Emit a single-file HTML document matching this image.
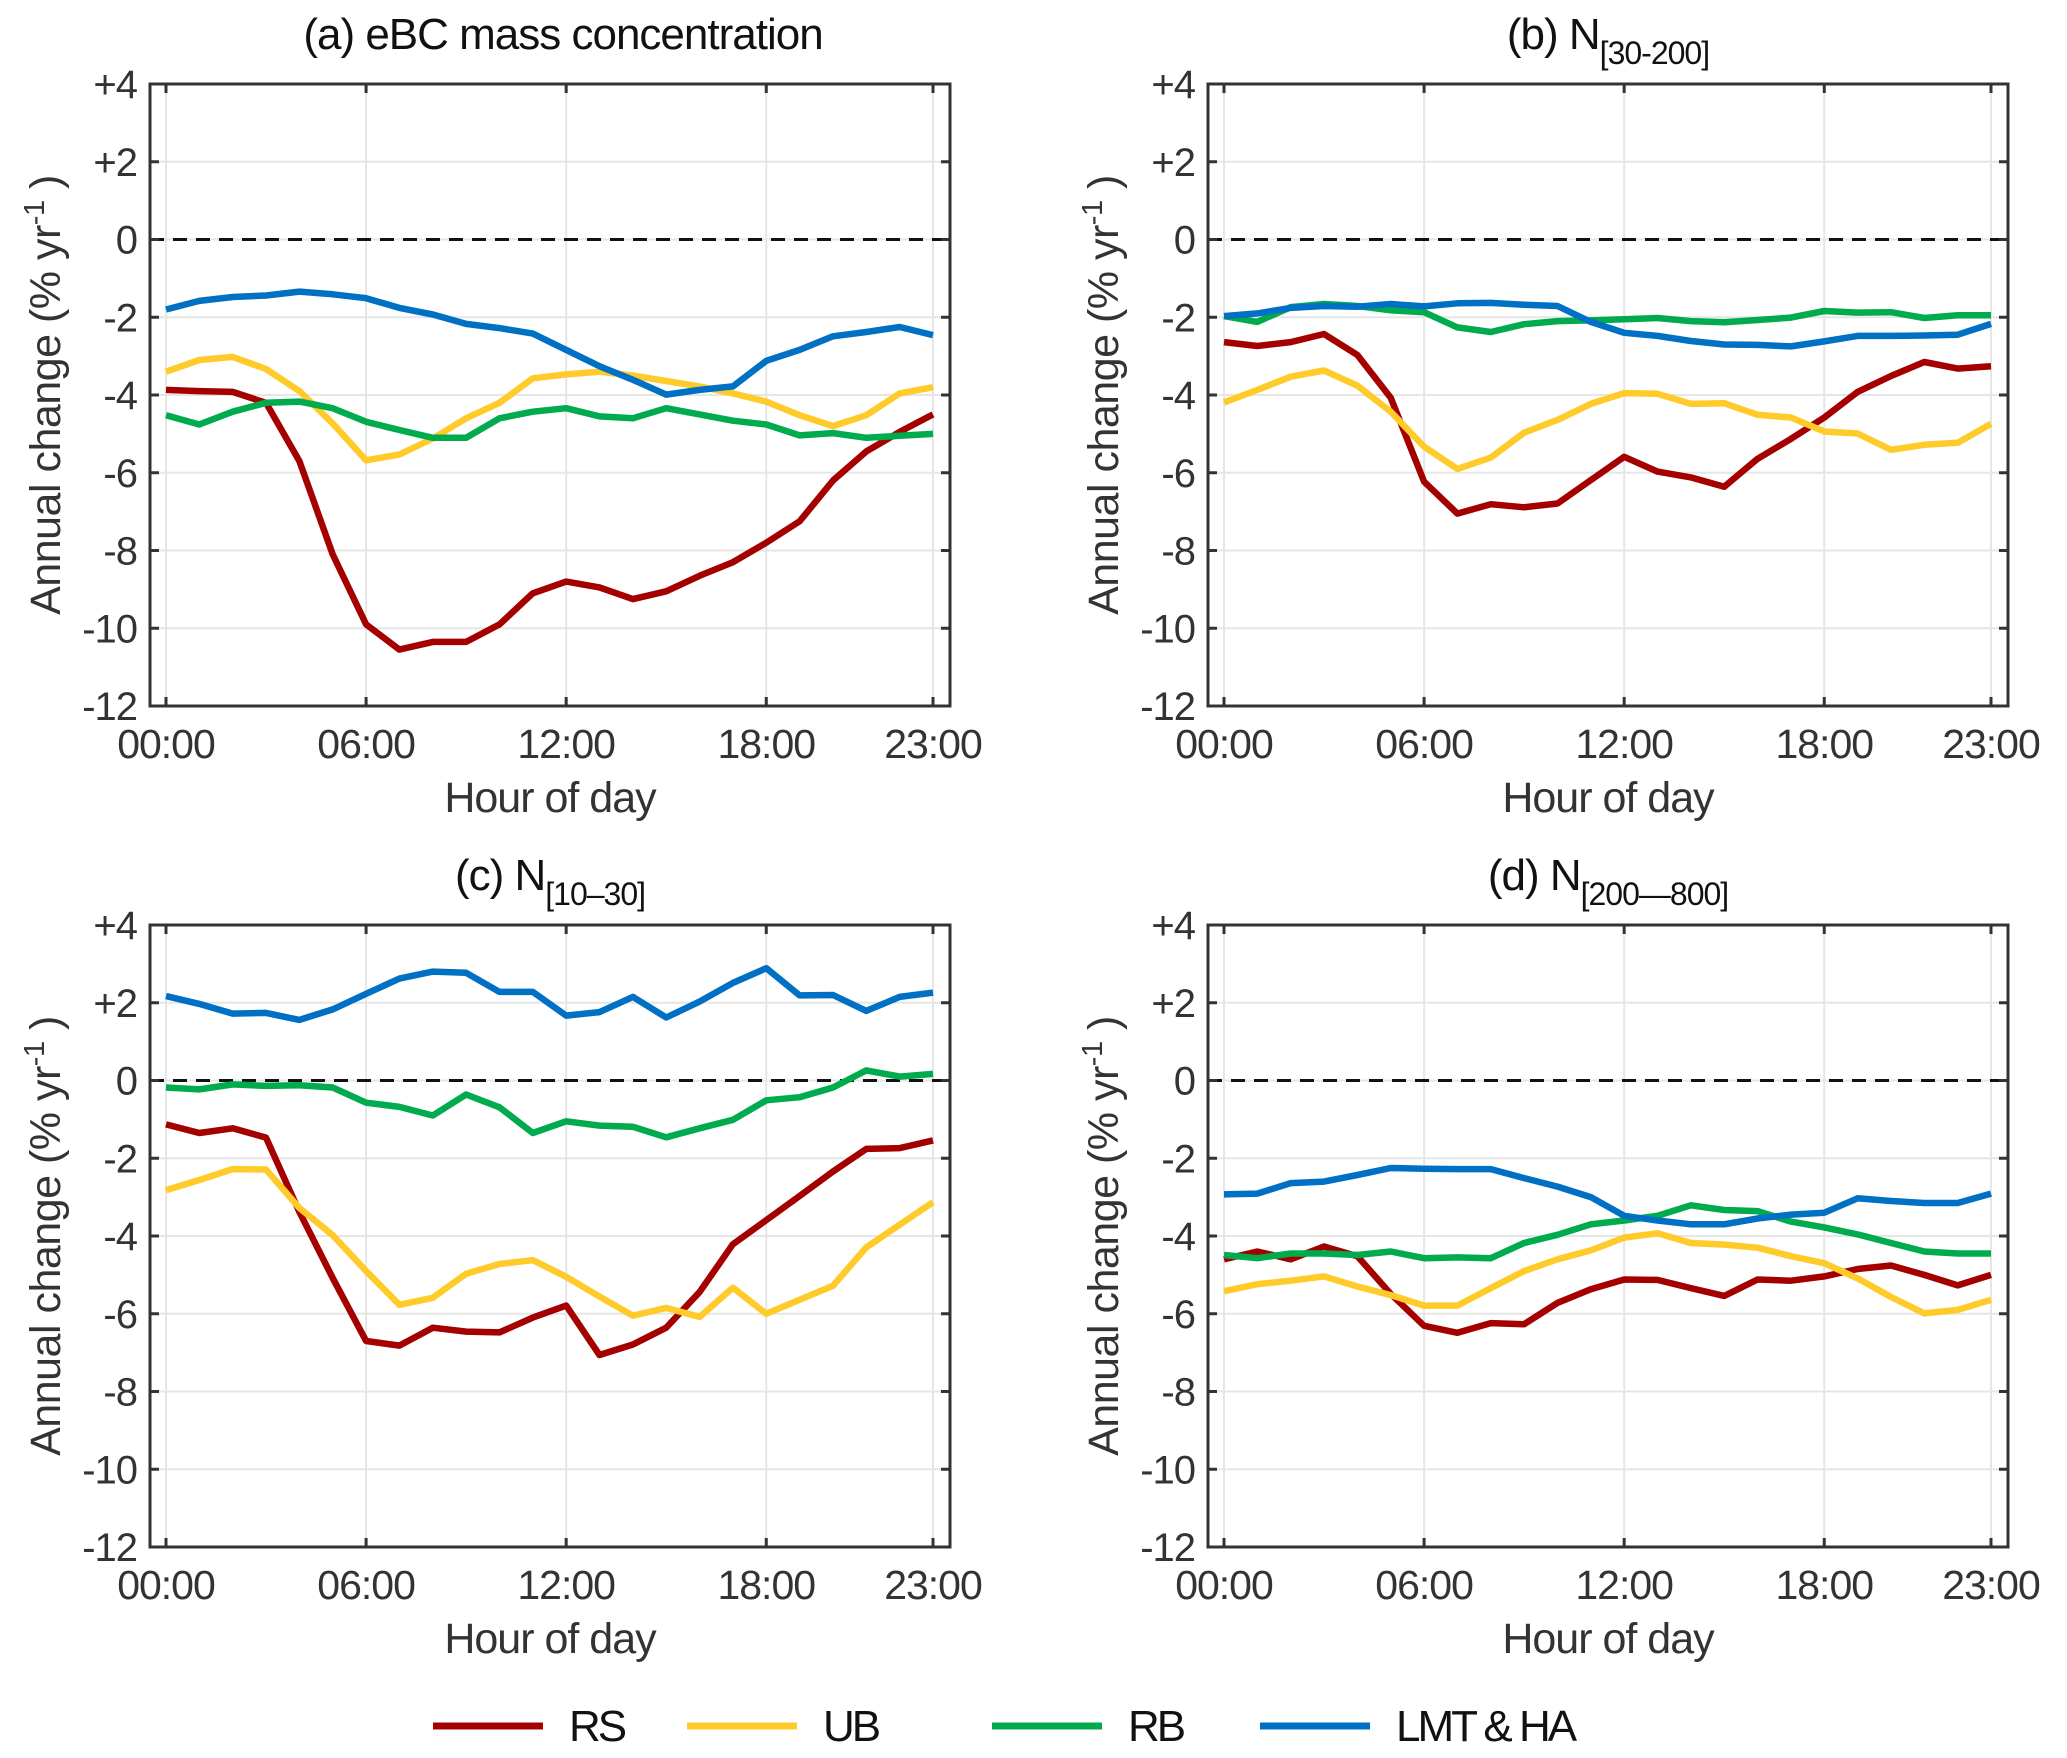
<!DOCTYPE html>
<html><head><meta charset="utf-8"><style>
html,body{margin:0;padding:0;background:#fff;}
svg{display:block;font-family:"Liberation Sans",Arial,sans-serif;}
</style></head><body>
<svg id="fig" width="2067" height="1758" viewBox="0 0 2067 1758" xmlns="http://www.w3.org/2000/svg"></svg>
<script>
const hours = [0,1,2,3,4,5,6,7,8,9,10,11,12,13,14,15,16,17,18,19,20,21,22,23];
const yTicks = [4,2,0,-2,-4,-6,-8,-10,-12];
const yTickLabels = ["+4","+2","0","-2","-4","-6","-8","-10","-12"];
const xTicks = [0,6,12,18,23];
const xTickLabels = ["00:00","06:00","12:00","18:00","23:00"];
const seriesNames = ["RS","UB","RB","LMT & HA"];

const aRS = [-3.87,-3.9,-3.92,-4.2,-5.7,-8.1,-9.9,-10.55,-10.35,-10.35,-9.9,-9.1,-8.8,-8.95,-9.25,-9.05,-8.65,-8.3,-7.8,-7.25,-6.2,-5.45,-4.95,-4.5];
const aUB = [-3.4,-3.1,-3.02,-3.33,-3.9,-4.73,-5.68,-5.53,-5.12,-4.6,-4.2,-3.57,-3.47,-3.4,-3.5,-3.64,-3.78,-3.96,-4.17,-4.52,-4.8,-4.52,-3.96,-3.8];
const aRB = [-4.52,-4.76,-4.43,-4.2,-4.17,-4.34,-4.69,-4.9,-5.1,-5.1,-4.6,-4.43,-4.34,-4.55,-4.6,-4.34,-4.5,-4.66,-4.76,-5.04,-4.98,-5.1,-5.05,-5.0];
const aLMT = [-1.8,-1.58,-1.48,-1.44,-1.34,-1.41,-1.51,-1.76,-1.93,-2.17,-2.28,-2.42,-2.84,-3.26,-3.61,-3.99,-3.87,-3.78,-3.12,-2.84,-2.49,-2.38,-2.25,-2.46];

const bRS = [-2.64,-2.74,-2.64,-2.43,-2.97,-4.07,-6.23,-7.05,-6.81,-6.89,-6.79,-6.19,-5.59,-5.97,-6.12,-6.36,-5.64,-5.13,-4.58,-3.92,-3.51,-3.15,-3.32,-3.26];
const bUB = [-4.19,-3.87,-3.53,-3.37,-3.76,-4.43,-5.33,-5.9,-5.61,-4.97,-4.64,-4.23,-3.95,-3.97,-4.23,-4.21,-4.51,-4.58,-4.94,-4.99,-5.41,-5.28,-5.23,-4.74];
const bRB = [-1.97,-2.12,-1.74,-1.66,-1.71,-1.82,-1.87,-2.26,-2.38,-2.18,-2.10,-2.08,-2.05,-2.02,-2.10,-2.13,-2.07,-2.01,-1.84,-1.88,-1.87,-2.02,-1.95,-1.95];
const bLMT = [-1.97,-1.9,-1.76,-1.71,-1.73,-1.66,-1.72,-1.64,-1.63,-1.68,-1.71,-2.12,-2.4,-2.48,-2.61,-2.7,-2.71,-2.75,-2.62,-2.48,-2.48,-2.47,-2.45,-2.17];

const cRS = [-1.13,-1.35,-1.23,-1.47,-3.38,-5.08,-6.70,-6.82,-6.36,-6.46,-6.48,-6.1,-5.79,-7.06,-6.79,-6.36,-5.44,-4.21,-3.59,-2.97,-2.34,-1.76,-1.74,-1.54];
const cUB = [-2.82,-2.56,-2.28,-2.29,-3.28,-3.98,-4.9,-5.77,-5.59,-4.97,-4.72,-4.62,-5.05,-5.56,-6.05,-5.85,-6.08,-5.33,-6.0,-5.64,-5.28,-4.29,-3.71,-3.13];
const cRB = [-0.18,-0.23,-0.1,-0.14,-0.12,-0.18,-0.57,-0.68,-0.9,-0.36,-0.69,-1.35,-1.05,-1.16,-1.19,-1.46,-1.23,-1.01,-0.51,-0.43,-0.18,0.26,0.1,0.17];
const cLMT = [2.17,1.97,1.72,1.74,1.56,1.83,2.23,2.62,2.8,2.77,2.28,2.28,1.67,1.76,2.15,1.62,2.03,2.51,2.89,2.19,2.2,1.79,2.15,2.26];

const dRS = [-4.6,-4.4,-4.6,-4.27,-4.52,-5.49,-6.31,-6.49,-6.24,-6.27,-5.72,-5.37,-5.12,-5.13,-5.34,-5.54,-5.12,-5.15,-5.04,-4.85,-4.76,-5.0,-5.27,-5.0];
const dUB = [-5.42,-5.24,-5.15,-5.04,-5.3,-5.52,-5.79,-5.79,-5.34,-4.9,-4.6,-4.37,-4.04,-3.93,-4.18,-4.22,-4.3,-4.52,-4.7,-5.09,-5.57,-5.99,-5.9,-5.64];
const dRB = [-4.49,-4.57,-4.45,-4.45,-4.49,-4.4,-4.57,-4.55,-4.57,-4.18,-3.97,-3.7,-3.6,-3.48,-3.21,-3.33,-3.36,-3.63,-3.78,-3.96,-4.18,-4.4,-4.45,-4.45];
const dLMT = [-2.93,-2.91,-2.64,-2.6,-2.43,-2.25,-2.27,-2.28,-2.28,-2.51,-2.73,-3.0,-3.48,-3.6,-3.7,-3.7,-3.55,-3.45,-3.4,-3.03,-3.1,-3.15,-3.15,-2.91];

const colors = ["#a50000","#ffcb2a","#00ab4e","#0070c4"];
const NS = "http://www.w3.org/2000/svg";
const svg = document.getElementById("fig");
function mk(tag, attrs, parent){const e=document.createElementNS(NS,tag);for(const k in attrs)e.setAttribute(k,attrs[k]);(parent||svg).appendChild(e);return e;}

const panels = [
 {id:"a", L:150, T:84, title:"(a) eBC mass concentration", sub:"", data:[aRS,aUB,aRB,aLMT]},
 {id:"b", L:1208, T:84, title:"(b) N", sub:"[30-200]", data:[bRS,bUB,bRB,bLMT]},
 {id:"c", L:150, T:925, title:"(c) N", sub:"[10\u201330]", data:[cRS,cUB,cRB,cLMT]},
 {id:"d", L:1208, T:925, title:"(d) N", sub:"[200\u2014800]", data:[dRS,dUB,dRB,dLMT]}
];
const W=800,H=622;
panels.forEach(p=>{
  const g=mk("g",{});
  
  
  const xS=h=>p.L+16+h*(W-33)/23;
  const yS=v=>p.T+(4-v)*H/16;
  yTicks.forEach(v=>{const l=mk("line",{x1:p.L,x2:p.L+W,y1:yS(v),y2:yS(v),stroke:"#e6e6e6","stroke-width":2},g);
    });
  xTicks.forEach(h=>{const l=mk("line",{x1:xS(h),x2:xS(h),y1:p.T,y2:p.T+H,stroke:"#e6e6e6","stroke-width":2},g);
    });
  const z=mk("line",{x1:p.L,x2:p.L+W,y1:yS(0),y2:yS(0),stroke:"#111","stroke-width":3,"stroke-dasharray":"14 9"},g);
  
  p.data.forEach((vals,si)=>{
    const pts=hours.map((h,i)=>xS(h).toFixed(1)+","+yS(vals[i]).toFixed(1)).join(" ");
    const pl=mk("polyline",{points:pts,fill:"none",stroke:colors[si],"stroke-width":6.5,"stroke-linejoin":"round"},g);
    
    
  });
  const fr=mk("rect",{x:p.L,y:p.T,width:W,height:H,fill:"none",stroke:"#333","stroke-width":3},g);
  
  yTicks.forEach((v,i)=>{
    mk("line",{x1:p.L,x2:p.L+9,y1:yS(v),y2:yS(v),stroke:"#333","stroke-width":3},g);
    mk("line",{x1:p.L+W-9,x2:p.L+W,y1:yS(v),y2:yS(v),stroke:"#333","stroke-width":3},g);
    const t=mk("text",{x:p.L-13,y:yS(v)+14,"text-anchor":"end","font-size":40,fill:"#333","letter-spacing":"-1"},g);
    t.textContent=yTickLabels[i];
    
  });
  xTicks.forEach((h,i)=>{
    mk("line",{x1:xS(h),x2:xS(h),y1:p.T+H-9,y2:p.T+H,stroke:"#333","stroke-width":3},g);
    mk("line",{x1:xS(h),x2:xS(h),y1:p.T,y2:p.T+9,stroke:"#333","stroke-width":3},g);
    const t=mk("text",{x:xS(h),y:p.T+H+52,"text-anchor":"middle","font-size":41,fill:"#333","letter-spacing":"-1"},g);
    t.textContent=xTickLabels[i];
    
  });
  const xt=mk("text",{x:p.L+W/2,y:p.T+H+106,"text-anchor":"middle","font-size":43,fill:"#333","letter-spacing":"-1"},g);
  xt.textContent="Hour of day";
  
  const cy=p.T+H/2, cx=p.L-90;
  const yt=mk("text",{x:cx,y:cy,"text-anchor":"middle","font-size":43,fill:"#333","letter-spacing":"-0.5",transform:`rotate(-90 ${cx} ${cy})`},g);
  yt.innerHTML='Annual change (% yr<tspan dy="-16" font-size="29">-1</tspan><tspan dy="16"> )</tspan>';
  
  const tt=mk("text",{x:p.L+W/2+(p.sub?0:13),y:p.T-35,"text-anchor":"middle","font-size":44,fill:"#111","letter-spacing":"-1"},g);
  tt.innerHTML=p.title+(p.sub?'<tspan dy="15" font-size="32">'+p.sub+'</tspan>':'');
  
});
const legX=[433,687,992,1260];
seriesNames.forEach((n,i)=>{
  const lg=mk("g",{});
  
  
  mk("line",{x1:legX[i],x2:legX[i]+110,y1:1726,y2:1726,stroke:colors[i],"stroke-width":7},lg);
  const t=mk("text",{x:legX[i]+136,y:1741,"font-size":44,fill:"#111","letter-spacing":"-3"},lg);
  t.textContent=n;
});
</script>
</body></html>
